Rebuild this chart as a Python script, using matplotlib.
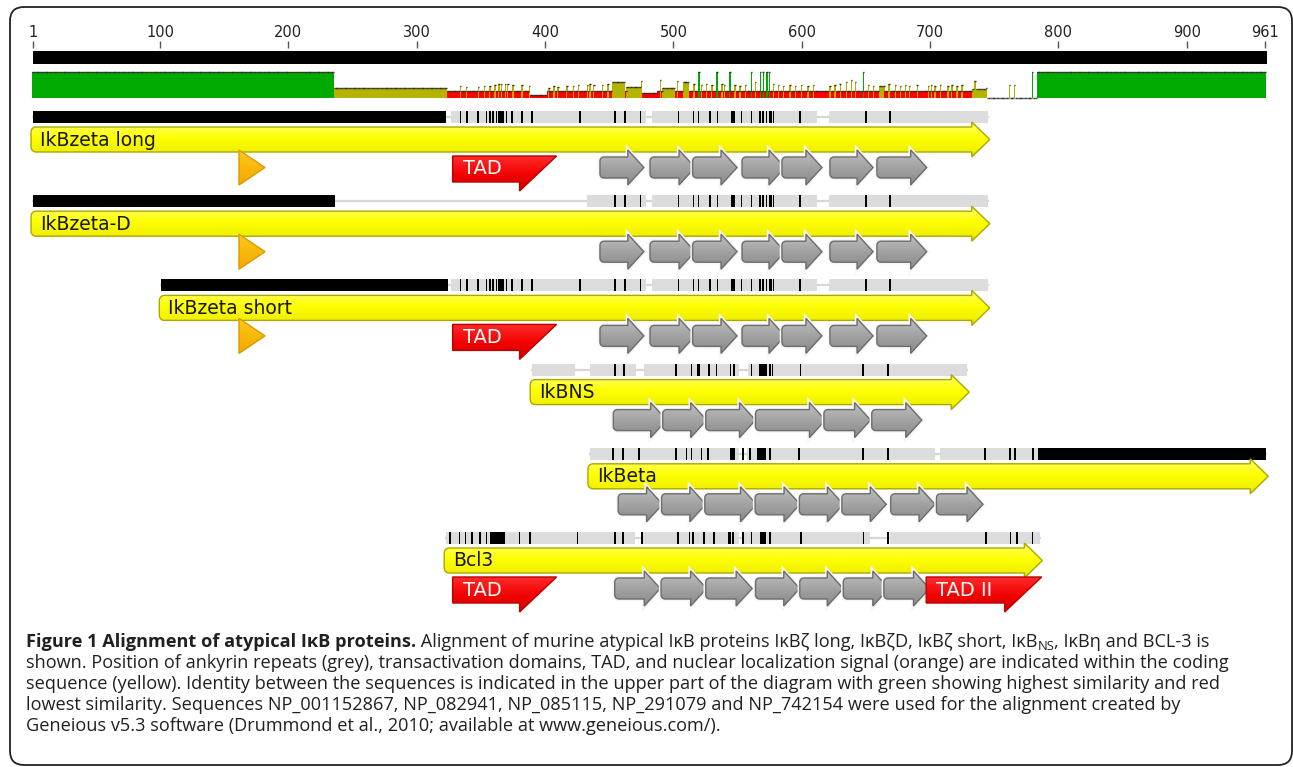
import numpy as np
import matplotlib
matplotlib.use('Agg')
import matplotlib.pyplot as plt
from matplotlib.path import Path
from matplotlib.patches import PathPatch, FancyBboxPatch
from matplotlib.colors import LinearSegmentedColormap
from matplotlib.transforms import IdentityTransform

plt.rcParams['font.family'] = ['Open Sans', 'DejaVu Sans']

W, H = 1293, 767
PX = 1.2833      # pixels per alignment column
X1 = 33          # pixel column of alignment position 1

# ruler
ruler_ticks = [1, 100, 200, 300, 400, 500, 600, 700, 800, 900, 961]
aln_len = 961

# identity track: (from, to, identity) segments, later ones overwrite earlier ones
ident_segments = [(1, 235, 1.0), (236, 323, 0.38), (324, 744, 0.27), (389, 401, 0.12),
                  (476, 487, 0.2), (745, 783, 0.0), (784, 961, 1.0),
                  (453, 462, 0.62), (464, 474, 0.42), (492, 501, 0.4), (508, 512, 0.6),
                  (661, 664, 0.45), (733, 743, 0.36)]
spike_pos = [334, 339, 348, 353, 357, 361, 364, 366, 369, 371, 375, 382, 388, 403, 407, 410,
             417, 422, 426, 433, 435, 438, 445, 449, 475, 490, 503, 516, 520, 522, 526, 530,
             534, 538, 540, 544, 548, 552, 556, 561, 564, 568, 570, 573, 575, 578, 582, 586,
             591, 595, 600, 605, 609, 622, 626, 630, 635, 639, 642, 648, 652, 656, 668, 673,
             677, 681, 684, 690, 699, 701, 704, 708, 714, 717, 721, 725, 735, 744, 762, 766, 780]
spike_val = [.45, .42, .42, .45, .48, .52, .55, .55, .55, .55, .5, .5, .45, .4, .45, .42,
             .45, .45, .5, .52, .55, .5, .5, .55, .65, .7, .65, .55, 1.0, .5, .55, .5,
             1.0, .55, .5, 1.0, .5, .45, .5, 1.0, .6, 1.0, 1.0, 1.0, 1.0, .55, .5, .45,
             .5, .45, .5, .45, .5, .45, .5, .55, .6, .7, .6, 1.0, .5, .45, .55, .5,
             .45, .5, .45, .5, .45, .5, .45, .5, .45, .5, .45, .5, .65, .38, .5, .5, 1.0]

# sequences
names = ["IkBzeta long", "IkBzeta-D", "IkBzeta short", "IkBNS", "IkBeta", "Bcl3"]
seq_start = [1, 1, 101, 390, 435, 323]
seq_end = [745, 745, 745, 729, 962, 786]
black_runs = [[(1, 323)], [(1, 236)], [(101, 324)], [], [(784, 962)], []]
grey_runs = [
    [(327, 479), (483, 612), (621, 745)],
    [(433, 479), (483, 612), (621, 745)],
    [(327, 479), (483, 612), (621, 745)],
    [(390, 423), (435, 471), (477, 551), (558, 729)],
    [(435, 551), (557, 704), (708, 784)],
    [(323, 470), (475, 551), (555, 653), (669, 786)],
]
zeta_diffs = [334, 339, 348, 354.5, 357, 359.7, 362.3, 364, 365, 366.2, 367.5, 370, 374, 382,
              389.6, 427, 454.5, 462.3, 474.5, 504, 515.6, 519.5, 528.6, 534.3, 545.4, 546.3,
              547.2, 553.2, 561, 567.5, 570, 572.7, 575.3, 576.5, 578, 598.7, 650, 669]
ns_diffs = [454.5, 461.5, 502, 514.2, 519, 520, 528, 533.7, 544.6, 547.5, 561, 567.5, 568.8,
            570.1, 571.4, 572.7, 575.2, 577.3, 599, 648, 667.4]
beta_diffs = [452.7, 461, 473.4, 502, 510.3, 514.2, 522, 527.2, 544.6, 545.9, 547.2, 554.5,
              559.7, 566.2, 567.5, 568.8, 570.1, 571.4, 575.2, 598, 648, 667.4, 742.8, 762.3,
              766.2, 780]
bcl3_diffs = [325.9, 333.3, 338.1, 343, 349.4, 354.3, 357.5, 358.8, 360.1, 361.4, 362.7, 364,
              365.2, 366.5, 367.8, 380.1, 388.2, 425.3, 454.4, 460.8, 475.4, 503.4, 512.5,
              515.1, 523.8, 531.9, 543.2, 544.5, 546.4, 554.5, 560.9, 568, 569.3, 570.6,
              571.9, 575.5, 599.7, 648.1, 667.1, 743.4, 762.7, 767.6, 779.9]
diffs = [zeta_diffs, [d for d in zeta_diffs if d > 433], zeta_diffs, ns_diffs, beta_diffs, bcl3_diffs]

# annotations
nls = (161.5, 181.8)
nls_rows = [0, 1, 2]
tads = [(0, 328, 409, "TAD"), (2, 328, 409, "TAD"), (5, 328, 409, "TAD"), (5, 697, 787, "TAD II")]
zeta_ank = [(442.8, 477), (481.8, 516.9), (515, 549.6), (553.5, 587), (584.6, 615.8),
            (622, 655.6), (658.6, 697.4)]
ankyrins = [
    zeta_ank, zeta_ank, zeta_ank,
    [(453.2, 494.8), (491.7, 526), (525.2, 564), (564, 618.5), (617.3, 653.7), (654.6, 693.6)],
    [(457, 491.6), (490.8, 525.3), (524.5, 564.8), (563.7, 598.7), (598.2, 632.5),
     (631.3, 665.9), (669.4, 703.9), (705, 741.3)],
    [(454.3, 489.8), (490.4, 525.9), (525.2, 561.4), (564, 598.5), (598.5, 632.4),
     (632.4, 667.9), (664, 699.6)],
]

caption_lines = [
    [("Figure 1 Alignment of atypical IκB proteins.", True, False),
     (" Alignment of murine atypical IκB proteins IκBζ long, IκBζD, IκBζ short, IκB", False, False),
     ("NS", False, True),
     (", IκBη and BCL-3 is", False, False)],
    [("shown. Position of ankyrin repeats (grey), transactivation domains, TAD, and nuclear "
      "localization signal (orange) are indicated within the coding", False, False)],
    [("sequence (yellow). Identity between the sequences is indicated in the upper part of the "
      "diagram with green showing highest similarity and red", False, False)],
    [("lowest similarity. Sequences NP_001152867, NP_082941, NP_085115, NP_291079 and "
      "NP_742154 were used for the alignment created by", False, False)],
    [("Geneious v5.3 software (Drummond et al., 2010; available at www.geneious.com/).", False, False)],
]

YELLOW = [(0, '#e0e000'), (0.12, '#ffff50'), (0.45, '#ffff00'), (0.85, '#f0f000'), (1, '#c6c600')]
GREY = [(0, '#c0c0c0'), (0.5, '#a2a2a2'), (1, '#8a8a8a')]
RED = [(0, '#ff2b2b'), (0.55, '#f20000'), (1, '#cc0000')]
ORANGE = [(0, '#ffc81a'), (1, '#f2a900')]

fig = plt.figure(figsize=(W / 100, H / 100), dpi=100)
ax = fig.add_axes([0, 0, 1, 1])
ax.axis('off')

zc = [3.0]


def shape(verts, stops, edge, lw=1.0, halo=False):
    z = zc[0]
    zc[0] += 0.01
    path = Path(verts + [verts[0]], closed=True)
    if halo:
        # light rim outside the outline, separating overlapping shapes
        ax.add_patch(PathPatch(path, facecolor='none', edgecolor='#f6f6f6', lw=3.2, zorder=z))
    patch = PathPatch(path, facecolor='none', edgecolor=edge, lw=lw, zorder=z + 0.005)
    ax.add_patch(patch)
    xs = [v[0] for v in verts]
    ys = [v[1] for v in verts]
    cmap = LinearSegmentedColormap.from_list('g', stops)
    img = ax.imshow(np.linspace(0, 1, 64).reshape(-1, 1), cmap=cmap, aspect='auto',
                    extent=(min(xs), max(xs), max(ys), min(ys)), interpolation='bilinear',
                    zorder=z + 0.002)
    img.set_clip_path(patch)


def arrow_verts(x0, x1, yt, yb, head, over, r):
    hx = head / PX
    rx = r / PX
    xh = max(x1 - hx, x0 + rx)
    ym = (yt + yb) / 2
    th = np.linspace(0, np.pi / 2, 7)
    tl = [(x0 + rx - rx * np.cos(t), yt + r - r * np.sin(t)) for t in th]
    right = [(xh, yt), (xh, yt - over), (x1, ym), (xh, yb + over), (xh, yb)]
    bl = [(x0 + rx - rx * np.sin(t), yb - r + r * np.cos(t)) for t in th]
    return tl + right + bl


# ruler and consensus
ax.vlines(ruler_ticks, 41, 47.5, color='#555555', lw=1)
for t in ruler_ticks:
    ax.text(t, 32.5, str(t), ha='center', va='center', fontsize=10.5,
            color='#222222', family='DejaVu Sans')
ax.broken_barh([(0.8, aln_len + 0.4)], (50.5, 13), facecolor='black')

# identity graph
ident = np.zeros(aln_len)
for a, b, v in ident_segments:
    ident[a - 1:b] = v
for p, v in zip(spike_pos, spike_val):
    ident[p - 1] = v
cols = np.arange(1, aln_len + 1)
colors = ['#00aa00' if v >= 0.99 else ('#b3b300' if v >= 0.3 else '#ff0000') for v in ident]
GB, GH = 98.3, 26.5
tops = GB - GH * ident
ax.bar(cols, GH * ident, bottom=tops, width=1.05, color=colors, linewidth=0, zorder=2)
ax.hlines(tops, cols - 0.55, cols + 0.55, color='#2e2e2e', lw=1.0, zorder=2.5)

# sequence rows
for i, name in enumerate(names):
    st = 111 + 84.2 * i
    mid = st + 6
    ax.plot([seq_start[i], seq_end[i]], [mid, mid], color='#d6d6d6', lw=1.6, zorder=1)
    ax.broken_barh([(a, b - a) for a, b in grey_runs[i]], (st, 12), facecolor='#dcdcdc', zorder=1.2)
    ax.broken_barh([(a, b - a) for a, b in black_runs[i]], (st, 12), facecolor='black', zorder=1.3)
    ax.bar(diffs[i], 12, bottom=st, width=1.3, color='black', linewidth=0, zorder=1.4)

    yt = st + 16
    x0 = seq_start[i] - 2 / PX
    x1 = seq_end[i] + 2 / PX
    shape(arrow_verts(x0, x1, yt, yt + 25, 18, 5, 5), YELLOW, '#a9a900', lw=1.0)
    ax.text(seq_start[i] + 7 / PX, yt + 13, name, ha='left', va='center', fontsize=13.5,
            color='#161616', family='DejaVu Sans', zorder=4)

    at = st + 39
    if i in nls_rows:
        shape([(nls[0], at), (nls[1], at + 17.5), (nls[0], at + 35)], ORANGE, '#dc9a00', lw=1.0)
    for a, b in ankyrins[i]:
        shape(arrow_verts(a, b, at + 7, at + 28, 16, 7, 4), GREY, '#6c6c6c', lw=1.0, halo=True)

for row, a, b, label in tads:
    tt = 111 + 84.2 * row + 45
    tip = b - 37 / PX
    shape([(a, tt), (b, tt), (tip, tt + 35), (tip, tt + 26), (a, tt + 26)], RED, '#b80000', lw=1.0)
    ax.text(a + 10 / PX, tt + 13, label, ha='left', va='center', fontsize=14,
            color='white', family='DejaVu Sans', zorder=zc[0] + 1)

ax.set_xlim(1 - X1 / PX, 1 + (W - X1) / PX)
ax.set_ylim(H, 0)

# frame around the figure panel
frame = FancyBboxPatch((10, 2), 1282, 758, boxstyle='round,pad=0,rounding_size=14',
                       transform=IdentityTransform(), fill=False, ec='#222222', lw=1.3)
fig.add_artist(frame)

# caption
renderer = fig.canvas.get_renderer()
CAP_X = 26
CAP_COLOR = '#231f20'


def run_texts(y, runs, size):
    x = CAP_X
    out = []
    for text, bold, sub in runs:
        fs = size * 0.72 if sub else size
        dy = -3 if sub else 0
        t = fig.text(x, H - y + dy, text, fontsize=fs, color=CAP_COLOR,
                     fontweight='bold' if bold else 'normal', va='baseline', ha='left',
                     transform=IdentityTransform())
        x += t.get_window_extent(renderer=renderer).width
        out.append(t)
    return x, out


# size the caption so the text block spans the same width as the diagram
widths = []
for runs in caption_lines[:3]:
    end, probe = run_texts(0, runs, 11)
    widths.append(end - CAP_X)
    for t in probe:
        t.remove()
cap_size = 11 * (1180 + 1245 + 1238 - 3 * CAP_X) / sum(widths)

for k, runs in enumerate(caption_lines):
    run_texts(646.7 + 21 * k, runs, cap_size)

fig.savefig('out.png', dpi=100)
